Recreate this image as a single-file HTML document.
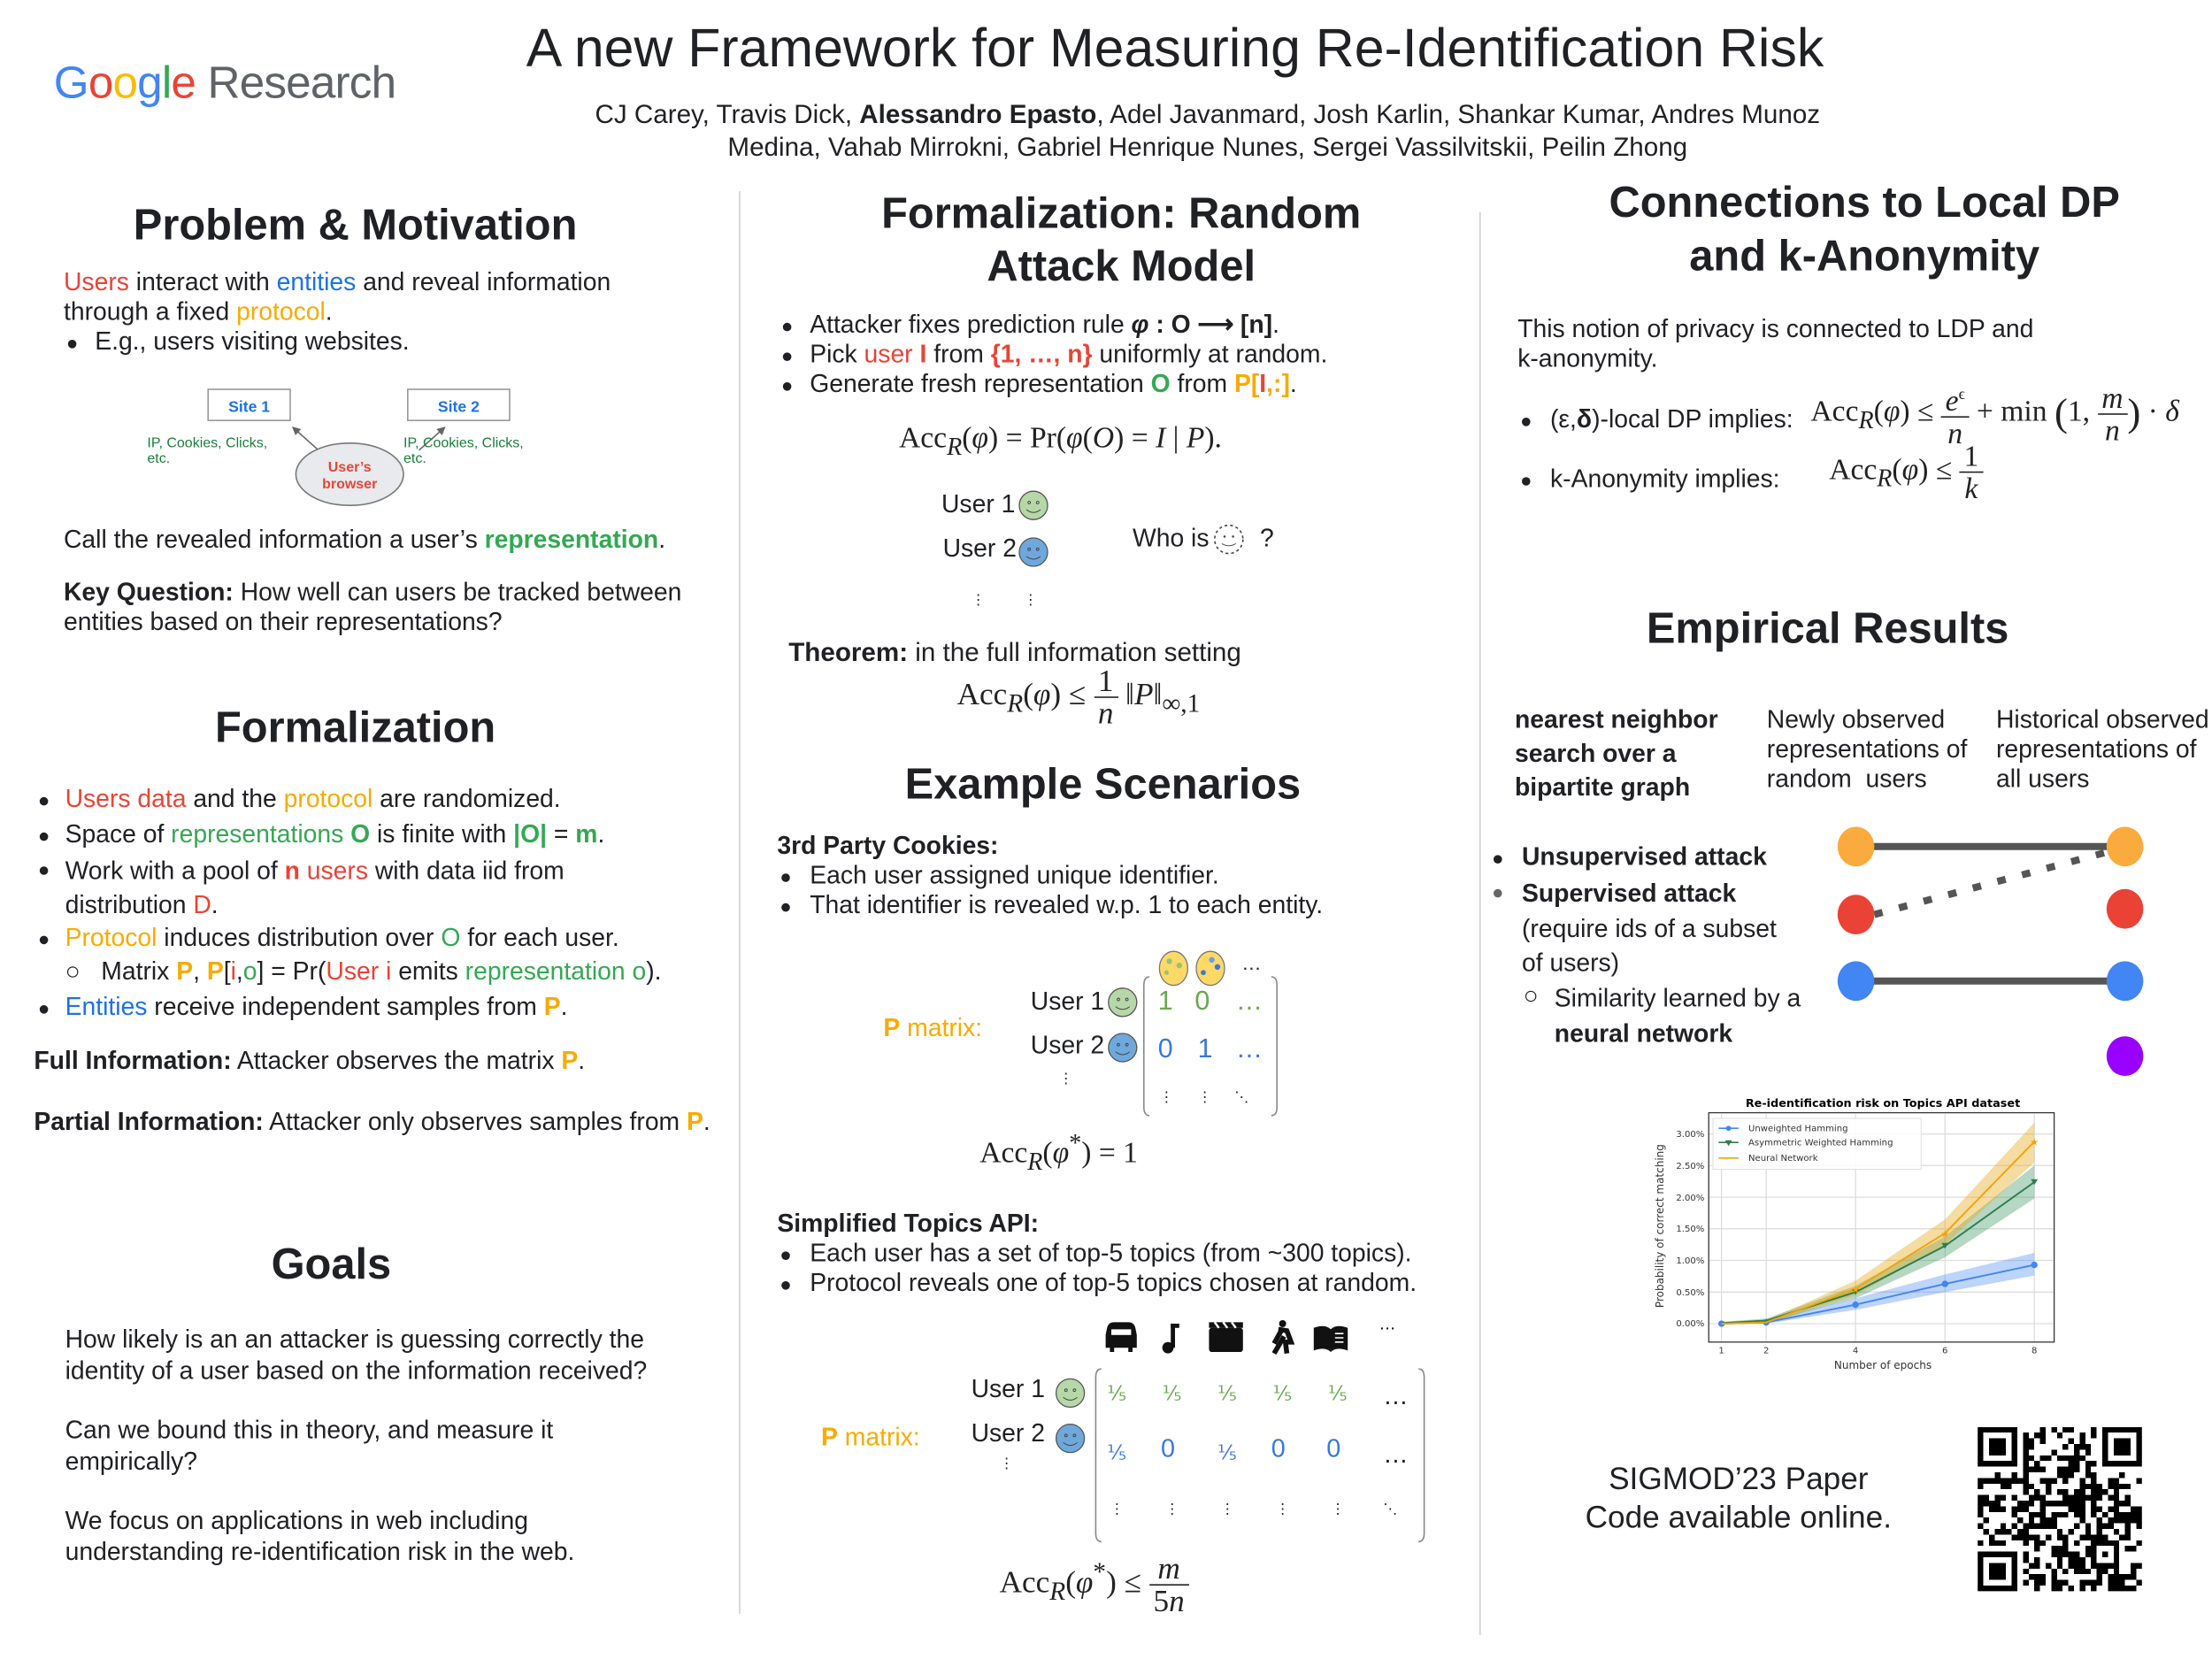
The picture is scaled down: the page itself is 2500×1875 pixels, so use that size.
<!DOCTYPE html>
<html><head><meta charset="utf-8">
<style>
html,body{margin:0;padding:0;background:#fff;}
body{width:2500px;height:1875px;overflow:hidden;position:relative;}
#pg{position:absolute;left:0;top:0;width:1562.5px;height:1172px;transform:scale(1.6);transform-origin:0 0;font-family:"Liberation Sans",sans-serif;color:#202124;}
.t{position:absolute;white-space:nowrap;font-size:17.7px;line-height:21px;}
.h{position:absolute;white-space:nowrap;font-weight:bold;font-size:30.5px;line-height:36px;text-align:center;transform:translateX(-50%);}
.c{transform:translateX(-50%);text-align:center;}
.r{color:#ea4335}.b{color:#1a73e8}.o{color:#f9ab00}.g{color:#34a853}
.m{font-family:"Liberation Serif",serif;font-size:21px;position:absolute;white-space:nowrap;color:#222;}
.m i{font-style:italic}
.fr{display:inline-block;vertical-align:middle;text-align:center;line-height:22px;}
.fr>span{display:block;padding:0 3px}
.fr>span:first-child{border-bottom:1px solid #222}
.dot{position:absolute;width:6px;height:6px;border-radius:50%;background:#202124}
.vl{position:absolute;width:1px;background:#d0d0d0}
</style></head><body><div id="pg">

<!-- header -->
<div class="t" style="left:38px;top:38px;font-size:32px;line-height:40px;letter-spacing:-0.5px"><span style="color:#4285f4">G</span><span style="color:#ea4335">o</span><span style="color:#fbbc05">o</span><span style="color:#4285f4">g</span><span style="color:#34a853">l</span><span style="color:#ea4335">e</span> <span style="color:#5f6368">Research</span></div>
<div class="t c" style="left:830px;top:13px;font-size:38px;line-height:44px">A new Framework for Measuring Re-Identification Risk</div>
<div class="t c" style="left:853px;top:69px;font-size:18.5px;line-height:23px">CJ Carey, Travis Dick, <b>Alessandro Epasto</b>, Adel Javanmard, Josh Karlin, Shankar Kumar, Andres Munoz<br>Medina, Vahab Mirrokni, Gabriel Henrique Nunes, Sergei Vassilvitskii, Peilin Zhong</div>

<div class="vl" style="left:522px;top:135px;height:1005px"></div>
<div class="vl" style="left:1045px;top:150px;height:1005px"></div>

<!-- LEFT -->
<div class="h" style="left:251px;top:141px">Problem &amp; Motivation</div>
<div class="t" style="left:45px;top:189px"><span class="r">Users</span> interact with <span class="b">entities</span> and reveal information<br>through a fixed <span class="o">protocol</span>.</div>
<div class="dot" style="left:48px;top:240px"></div>
<div class="t" style="left:67px;top:231px">E.g., users visiting websites.</div>
<svg style="position:absolute;left:100px;top:270px" width="290" height="90">
<defs><marker id="ar" markerWidth="6" markerHeight="6" refX="5" refY="3" orient="auto"><path d="M0,0 L6,3 L0,6z" fill="#666"/></marker></defs>
<rect x="47" y="5" width="58" height="22" fill="#fff" stroke="#999"/>
<rect x="188" y="5" width="72" height="22" fill="#fff" stroke="#999"/>
<text x="76" y="21" font-size="11" font-weight="bold" fill="#1a73e8" text-anchor="middle" font-family="Liberation Sans">Site 1</text>
<text x="224" y="21" font-size="11" font-weight="bold" fill="#1a73e8" text-anchor="middle" font-family="Liberation Sans">Site 2</text>
<line x1="125" y1="48" x2="107" y2="32" stroke="#666" marker-end="url(#ar)"/>
<line x1="196" y1="48" x2="214" y2="32" stroke="#666" marker-end="url(#ar)"/>
<ellipse cx="147" cy="65" rx="38" ry="22" fill="#e8eaed" stroke="#777"/>
<text x="147" y="63" font-size="10" font-weight="bold" fill="#ea4335" text-anchor="middle" font-family="Liberation Sans">User’s</text>
<text x="147" y="75" font-size="10" font-weight="bold" fill="#ea4335" text-anchor="middle" font-family="Liberation Sans">browser</text>
<text x="4" y="46" font-size="10" fill="#188038" font-family="Liberation Sans">IP, Cookies, Clicks,</text>
<text x="4" y="57" font-size="10" fill="#188038" font-family="Liberation Sans">etc.</text>
<text x="185" y="46" font-size="10" fill="#188038" font-family="Liberation Sans">IP, Cookies, Clicks,</text>
<text x="185" y="57" font-size="10" fill="#188038" font-family="Liberation Sans">etc.</text>
</svg>
<div class="t" style="left:45px;top:371px">Call the revealed information a user’s <span class="g" style="font-weight:bold;color:#34a853">representation</span>.</div>
<div class="t" style="left:45px;top:408px"><b>Key Question:</b> How well can users be tracked between<br>entities based on their representations?</div>

<div class="h" style="left:251px;top:496px">Formalization</div>
<div class="dot" style="left:28px;top:563px"></div><div class="t" style="left:46px;top:554px"><span class="r">Users data</span> and the <span class="o">protocol</span> are randomized.</div>
<div class="dot" style="left:28px;top:588px"></div><div class="t" style="left:46px;top:579px">Space of <span class="g">representations</span> <b class="g">O</b> is finite with <b class="g">|O|</b> = <b class="g">m</b>.</div>
<div class="dot" style="left:28px;top:612px"></div><div class="t" style="left:46px;top:603px;line-height:24px">Work with a pool of <span class="r"><b>n</b> users</span> with data iid from<br>distribution <span class="r">D</span>.</div>
<div class="dot" style="left:28px;top:661px"></div><div class="t" style="left:46px;top:652px"><span class="o">Protocol</span> induces distribution over <span class="g">O</span> for each user.</div>
<div class="t" style="left:46px;top:676px">○&nbsp;&nbsp; Matrix <b class="o">P</b>, <b class="o">P</b>[<span class="r">i</span>,<span class="g">o</span>] = Pr(<span class="r">User i</span> emits <span class="g">representation o</span>).</div>
<div class="dot" style="left:28px;top:710px"></div><div class="t" style="left:46px;top:701px"><span class="b">Entities</span> receive independent samples from <b class="o">P</b>.</div>
<div class="t" style="left:24px;top:739px"><b>Full Information:</b> Attacker observes the matrix <b class="o">P</b>.</div>
<div class="t" style="left:24px;top:782px"><b>Partial Information:</b> Attacker only observes samples from <b class="o">P</b>.</div>

<div class="h" style="left:234px;top:875px">Goals</div>
<div class="t" style="left:46px;top:935px;line-height:22px">How likely is an an attacker is guessing correctly the<br>identity of a user based on the information received?</div>
<div class="t" style="left:46px;top:999px;line-height:22px">Can we bound this in theory, and measure it<br>empirically?</div>
<div class="t" style="left:46px;top:1063px;line-height:22px">We focus on applications in web including<br>understanding re-identification risk in the web.</div>

<!-- MIDDLE -->
<div class="h" style="left:792px;top:133px;line-height:37px">Formalization: Random<br>Attack Model</div>
<div class="dot" style="left:553px;top:228px"></div><div class="t" style="left:572px;top:219px">Attacker fixes prediction rule <b><i>φ</i> : O ⟶ [n]</b>.</div>
<div class="dot" style="left:553px;top:249px"></div><div class="t" style="left:572px;top:240px">Pick <span class="r">user <b>I</b></span> from <b class="r">{1, …, n}</b> uniformly at random.</div>
<div class="dot" style="left:553px;top:270px"></div><div class="t" style="left:572px;top:261px">Generate fresh representation <b class="g">O</b> from <b class="o">P[</b><b class="r">I</b><b class="o">,:]</b>.</div>
<div class="m" style="left:635px;top:297px">Acc<sub><i>R</i></sub>(<i>φ</i>) = Pr(<i>φ</i>(<i>O</i>) = <i>I</i> | <i>P</i>).</div>
<div class="t" style="left:665px;top:346px">User 1</div>
<div class="t" style="left:666px;top:377px">User 2</div>
<div class="t" style="left:800px;top:370px">Who is</div>
<div class="t" style="left:890px;top:370px">?</div>
<div class="t" style="left:686px;top:414px;font-size:10px">⋮</div>
<div class="t" style="left:723px;top:414px;font-size:10px">⋮</div>
<div class="t" style="left:557px;top:450px;font-size:18.5px"><b>Theorem:</b> in the full information setting</div>
<div class="m" style="left:676px;top:470px;font-size:22px">Acc<sub><i>R</i></sub>(<i>φ</i>) ≤ <span class="fr"><span>1</span><span><i>n</i></span></span> ‖<i>P</i>‖<sub>∞,1</sub></div>

<div class="h" style="left:779px;top:536px">Example Scenarios</div>
<div class="t" style="left:549px;top:587px"><b>3rd Party Cookies:</b></div>
<div class="dot" style="left:552px;top:617px"></div><div class="t" style="left:572px;top:608px">Each user assigned unique identifier.</div>
<div class="dot" style="left:552px;top:638px"></div><div class="t" style="left:572px;top:629px">That identifier is revealed w.p. 1 to each entity.</div>
<div class="t" style="left:624px;top:716px;color:#f9ab00"><b>P</b> matrix:</div>
<div class="t" style="left:728px;top:697px">User 1</div>
<div class="t" style="left:728px;top:728px">User 2</div>
<div class="t" style="left:748px;top:752px;font-size:10px">⋮</div>
<svg style="position:absolute;left:806px;top:688px" width="100" height="104"><path d="M6,2 Q2,2 2,8 V94 Q2,100 6,100 M92,2 Q96,2 96,8 V94 Q96,100 92,100" fill="none" stroke="#888"/></svg>
<div class="t" style="left:818px;top:697px;font-size:19px;color:#6aa84f">1</div>
<div class="t" style="left:844px;top:697px;font-size:19px;color:#6aa84f">0</div>
<div class="t" style="left:873px;top:697px;font-size:19px;color:#6aa84f">…</div>
<div class="t" style="left:818px;top:731px;font-size:19px;color:#3c78d8">0</div>
<div class="t" style="left:846px;top:731px;font-size:19px;color:#3c78d8">1</div>
<div class="t" style="left:873px;top:731px;font-size:19px;color:#3c78d8">…</div>
<div class="t" style="left:819px;top:765px;font-size:10px">⋮</div><div class="t" style="left:846px;top:765px;font-size:10px">⋮</div><div class="t" style="left:872px;top:765px;font-size:10px">⋱</div>
<div class="t" style="left:877px;top:670px;font-size:14px">…</div>
<div class="m" style="left:692px;top:797px">Acc<sub><i>R</i></sub>(<i>φ</i><sup>*</sup>) = 1</div>

<div class="t" style="left:549px;top:854px"><b>Simplified Topics API:</b></div>
<div class="dot" style="left:552px;top:884px"></div><div class="t" style="left:572px;top:875px">Each user has a set of top-5 topics (from ~300 topics).</div>
<div class="dot" style="left:552px;top:905px"></div><div class="t" style="left:572px;top:896px">Protocol reveals one of top-5 topics chosen at random.</div>
<svg style="position:absolute;left:778px;top:930px" width="230" height="32">
<path d="M4,8 Q5,4 9,4 H19 Q23,4 24,8 L25,13 V22 H22 V25 H19 V22 H9 V25 H6 V22 H3 V13z" fill="#111"/><rect x="7" y="9" width="14" height="4" fill="#fff"/>
<circle cx="47" cy="22" r="4" fill="#111"/><rect x="49" y="5" width="3" height="17" fill="#111"/><rect x="49" y="5" width="6" height="3" fill="#111"/>
<rect x="76" y="8" width="24" height="17" rx="2" fill="#111"/><path d="M76,4 L100,4 L100,8 L76,8z" fill="#111"/><path d="M80,4 l3,4 M86,4 l3,4 M92,4 l3,4" stroke="#fff" stroke-width="1.5"/>
<circle cx="128" cy="5" r="2.5" fill="#111"/><path d="M125,9 L131,10 L134,18 L130,18 L131,26 M127,10 L122,19 M129,14 L122,26" stroke="#111" stroke-width="3.5" fill="none"/>
<path d="M150,8 Q158,5 162,9 Q166,5 174,8 V24 Q166,21 162,25 Q158,21 150,24z" fill="#111"/><path d="M165,12 h6 M165,15 h6 M165,18 h6" stroke="#fff"/>
<text x="196" y="9" font-size="12" font-family="Liberation Sans">…</text>
</svg>
<div class="t" style="left:580px;top:1005px;color:#f9ab00"><b>P</b> matrix:</div>
<div class="t" style="left:686px;top:971px">User 1</div>
<div class="t" style="left:686px;top:1002px">User 2</div>
<div class="t" style="left:706px;top:1024px;font-size:10px">⋮</div>
<svg style="position:absolute;left:772px;top:965px" width="240" height="128"><path d="M6,2 Q2,2 2,8 V118 Q2,124 6,124 M230,2 Q234,2 234,8 V118 Q234,124 230,124" fill="none" stroke="#888"/></svg>
<div class="t" style="left:782px;top:974px;font-size:14px;color:#6aa84f">⅕</div><div class="t" style="left:821px;top:974px;font-size:14px;color:#6aa84f">⅕</div><div class="t" style="left:860px;top:974px;font-size:14px;color:#6aa84f">⅕</div><div class="t" style="left:899px;top:974px;font-size:14px;color:#6aa84f">⅕</div><div class="t" style="left:938px;top:974px;font-size:14px;color:#6aa84f">⅕</div>
<div class="t" style="left:977px;top:976px">…</div>
<div class="t" style="left:782px;top:1016px;font-size:14px;color:#3c78d8">⅕</div><div class="t" style="left:820px;top:1013px;font-size:18px;color:#3c78d8">0</div><div class="t" style="left:860px;top:1016px;font-size:14px;color:#3c78d8">⅕</div><div class="t" style="left:898px;top:1013px;font-size:18px;color:#3c78d8">0</div><div class="t" style="left:937px;top:1013px;font-size:18px;color:#3c78d8">0</div>
<div class="t" style="left:977px;top:1017px">…</div>
<div class="t" style="left:784px;top:1056px;font-size:10px">⋮</div><div class="t" style="left:823px;top:1056px;font-size:10px">⋮</div><div class="t" style="left:862px;top:1056px;font-size:10px">⋮</div><div class="t" style="left:901px;top:1056px;font-size:10px">⋮</div><div class="t" style="left:940px;top:1056px;font-size:10px">⋮</div><div class="t" style="left:977px;top:1056px;font-size:10px">⋱</div>
<div class="m" style="left:706px;top:1097px;font-size:22px">Acc<sub><i>R</i></sub>(<i>φ</i><sup>*</sup>) ≤ <span class="fr"><span><i>m</i></span><span>5<i>n</i></span></span></div>

<!-- smileys -->
<svg style="position:absolute;left:0;top:0;overflow:visible" width="1" height="1">
<defs><g id="sm"><circle r="10" stroke="#555" stroke-width="0.8"/><circle cx="-3" cy="-2" r="0.9" fill="none" stroke="#444" stroke-width="0.6"/><circle cx="3" cy="-2" r="0.9" fill="none" stroke="#444" stroke-width="0.6"/><path d="M-5,3 Q0,7 5,3" fill="none" stroke="#444" stroke-width="0.6"/></g></defs>
<use href="#sm" x="730" y="357" fill="#b6d7a8"/><use href="#sm" x="730" y="390" fill="#6fa8dc"/>
<circle cx="868" cy="381" r="10" fill="none" stroke="#444" stroke-dasharray="2,2"/><circle cx="865" cy="379" r="0.8" fill="#444"/><circle cx="871" cy="379" r="0.8" fill="#444"/><path d="M863,384 Q868,387 873,384" fill="none" stroke="#444" stroke-width="0.6"/>
<use href="#sm" x="793" y="708" fill="#b6d7a8"/><use href="#sm" x="793" y="740" fill="#6fa8dc"/>
<use href="#sm" x="756" y="984" fill="#b6d7a8"/><use href="#sm" x="756" y="1016" fill="#6fa8dc"/>
<ellipse cx="829" cy="684" rx="10" ry="12" fill="#ffd966" stroke="#777" stroke-width="0.8"/><circle cx="826" cy="679" r="2" fill="#93c47d"/><circle cx="833" cy="682" r="2" fill="#93c47d"/><circle cx="824" cy="687" r="1.6" fill="#93c47d"/>
<ellipse cx="855" cy="684" rx="10" ry="12" fill="#ffd966" stroke="#777" stroke-width="0.8"/><circle cx="856" cy="678" r="2" fill="#6d9eeb"/><circle cx="860" cy="683" r="2" fill="#3c78d8"/><circle cx="850" cy="687" r="1.8" fill="#3c78d8"/>
</svg>

<!-- RIGHT -->
<div class="h" style="left:1317px;top:124px;line-height:38px">Connections to Local DP<br>and k-Anonymity</div>
<div class="t" style="left:1072px;top:222px">This notion of privacy is connected to LDP and<br>k-anonymity.</div>
<div class="dot" style="left:1075px;top:295px"></div><div class="t" style="left:1095px;top:286px">(ε,<b>δ</b>)-local DP implies:</div>
<div class="m" style="left:1279px;top:268px">Acc<sub><i>R</i></sub>(<i>φ</i>) ≤ <span class="fr"><span><i>e</i><sup style="font-size:11px">ϵ</sup></span><span><i>n</i></span></span> + min <span style="font-size:28px;vertical-align:middle">(</span>1, <span class="fr"><span><i>m</i></span><span><i>n</i></span></span><span style="font-size:28px;vertical-align:middle">)</span> · <i>δ</i></div>
<div class="dot" style="left:1075px;top:337px"></div><div class="t" style="left:1095px;top:328px">k-Anonymity implies:</div>
<div class="m" style="left:1292px;top:311px">Acc<sub><i>R</i></sub>(<i>φ</i>) ≤ <span class="fr"><span>1</span><span><i>k</i></span></span></div>

<div class="h" style="left:1291px;top:426px">Empirical Results</div>
<div class="t" style="left:1070px;top:496px;line-height:24px"><b>nearest neighbor<br>search over a<br>bipartite graph</b></div>
<div class="t" style="left:1248px;top:498px">Newly observed<br>representations of<br>random&nbsp; users</div>
<div class="t" style="left:1410px;top:498px">Historical observed<br>representations of<br>all users</div>
<div class="dot" style="left:1055px;top:604px"></div><div class="t" style="left:1075px;top:595px;font-size:17.7px"><b>Unsupervised attack</b></div>
<div class="dot" style="left:1055px;top:628px;background:#666"></div><div class="t" style="left:1075px;top:619px;font-size:17.7px;line-height:24.5px"><b>Supervised attack</b><br>(require ids of a subset<br>of users)</div>
<div class="t" style="left:1076px;top:693px;font-size:17.7px">○</div><div class="t" style="left:1098px;top:693px;font-size:17.7px;line-height:24.5px">Similarity learned by a<br><b>neural network</b></div>
<svg style="position:absolute;left:1290px;top:580px" width="240" height="185">
<line x1="21" y1="18" x2="211" y2="18" stroke="#555" stroke-width="5"/>
<line x1="21" y1="113" x2="211" y2="113" stroke="#555" stroke-width="5"/>
<line x1="34" y1="66" x2="198" y2="22" stroke="#555" stroke-width="5" stroke-dasharray="6,12"/>
<ellipse cx="21" cy="18" rx="13" ry="14" fill="#fbab3d"/><ellipse cx="211" cy="18" rx="13" ry="14" fill="#fbab3d"/>
<ellipse cx="21" cy="66" rx="13" ry="14" fill="#ea4335"/><ellipse cx="211" cy="62" rx="13" ry="14" fill="#ea4335"/>
<ellipse cx="21" cy="113" rx="13" ry="14" fill="#4285f4"/><ellipse cx="211" cy="113" rx="13" ry="14" fill="#4285f4"/>
<ellipse cx="211" cy="166" rx="13" ry="14" fill="#9900ff"/>
</svg>

<!-- chart -->
<svg style="position:absolute;left:0;top:0;overflow:visible" width="1" height="1" font-family="DejaVu Sans, sans-serif">
<text x="1330" y="782" font-size="8" font-weight="bold" text-anchor="middle">Re-identification risk on Topics API dataset</text>
<g stroke="#ddd" stroke-width="0.8">
<line x1="1216" y1="787" x2="1216" y2="948"/><line x1="1247.6" y1="787" x2="1247.6" y2="948"/><line x1="1310.7" y1="787" x2="1310.7" y2="948"/><line x1="1373.9" y1="787" x2="1373.9" y2="948"/><line x1="1437" y1="787" x2="1437" y2="948"/>
<line x1="1207" y1="935" x2="1451" y2="935"/><line x1="1207" y1="912.7" x2="1451" y2="912.7"/><line x1="1207" y1="890.3" x2="1451" y2="890.3"/><line x1="1207" y1="868" x2="1451" y2="868"/><line x1="1207" y1="845.7" x2="1451" y2="845.7"/><line x1="1207" y1="823.3" x2="1451" y2="823.3"/><line x1="1207" y1="801" x2="1451" y2="801"/>
</g>
<polygon points="1216,934.1 1247.6,932.8 1310.7,917.1 1373.9,900.2 1437,885 1437,901 1373.9,912.7 1310.7,925.2 1247.6,935 1216,935" fill="#4285f4" fill-opacity="0.35"/>
<polygon points="1216,933.7 1247.6,931.4 1310.7,908.2 1373.9,873.4 1437,823.3 1437,846.6 1373.9,888.1 1310.7,917.1 1247.6,934.1 1216,935" fill="#2e8b57" fill-opacity="0.35"/>
<polygon points="1216,934.1 1247.6,932.8 1310.7,904.6 1373.9,861.3 1437,793 1437,821.1 1373.9,879.2 1310.7,914.9 1247.6,935 1216,935" fill="#e6a817" fill-opacity="0.4"/>
<polyline points="1216,935 1247.6,934.1 1310.7,921.6 1373.9,906.9 1437,893.5" fill="none" stroke="#4285f4" stroke-width="1.2"/>
<g fill="#4285f4"><circle cx="1216" cy="935" r="2.3"/><circle cx="1247.6" cy="934.1" r="2.3"/><circle cx="1310.7" cy="921.6" r="2.3"/><circle cx="1373.9" cy="906.9" r="2.3"/><circle cx="1437" cy="893.5" r="2.3"/></g>
<polyline points="1216,934.6 1247.6,932.8 1310.7,912.7 1373.9,880.1 1437,835" fill="none" stroke="#2e7d4f" stroke-width="1.2"/>
<polyline points="1216,935 1247.6,934.1 1310.7,910.4 1373.9,871.1 1437,806.4" fill="none" stroke="#f4a300" stroke-width="1.2"/>
<g fill="#2e7d4f"><path d="M1434.5,833 h5 l-2.5,4z"/><path d="M1371.4,878 h5 l-2.5,4z"/><path d="M1308.2,910.7 h5 l-2.5,4z"/></g>
<g fill="#f4a300" font-size="7" text-anchor="middle"><text x="1437" y="809">★</text><text x="1373.9" y="874">★</text><text x="1310.7" y="913">★</text></g>
<rect x="1207" y="786" width="244" height="162" fill="none" stroke="#333" stroke-width="0.8"/>
<rect x="1210" y="790" width="147" height="36" fill="#fff" fill-opacity="0.85" stroke="#ddd" stroke-width="0.6"/>
<g font-size="6.3" fill="#333">
<line x1="1214" y1="797" x2="1228" y2="797" stroke="#4285f4"/><circle cx="1221" cy="797" r="1.8" fill="#4285f4"/><text x="1235" y="799">Unweighted Hamming</text>
<line x1="1214" y1="807" x2="1228" y2="807" stroke="#2e7d4f"/><path d="M1218.5,805.5 h5 l-2.5,4z" fill="#2e7d4f"/><text x="1235" y="809">Asymmetric Weighted Hamming</text>
<line x1="1214" y1="818" x2="1228" y2="818" stroke="#f4a300"/><text x="1235" y="820">Neural Network</text>
</g>
<g font-size="6.3" fill="#333" text-anchor="end">
<text x="1204" y="937">0.00%</text><text x="1204" y="915">0.50%</text><text x="1204" y="892.5">1.00%</text><text x="1204" y="870">1.50%</text><text x="1204" y="848">2.00%</text><text x="1204" y="825.5">2.50%</text><text x="1204" y="803">3.00%</text>
</g>
<g font-size="6.3" fill="#333" text-anchor="middle">
<text x="1216" y="956">1</text><text x="1247.6" y="956">2</text><text x="1310.7" y="956">4</text><text x="1373.9" y="956">6</text><text x="1437" y="956">8</text>
<text x="1330" y="967" font-size="7.5">Number of epochs</text>
<text transform="translate(1175,866) rotate(-90)" font-size="7.5">Probability of correct matching</text>
</g>
</svg>

<div class="t c" style="left:1228px;top:1031px;font-size:22px;line-height:27px">SIGMOD’23 Paper<br>Code available online.</div>
<svg id="qr" style="position:absolute;left:1397px;top:1008px" width="116" height="116" viewBox="0 0 29 29" shape-rendering="crispEdges"></svg>
<script>
(function(){var n=29,g=[],s=12345;function r(){s=(s*1103515245+12345)&0x7fffffff;return s/0x7fffffff;}
for(var y=0;y<n;y++){g[y]=[];for(var x=0;x<n;x++)g[y][x]=r()<0.5?1:0;}
function f(ox,oy){for(var y=-1;y<8;y++)for(var x=-1;x<8;x++){var X=ox+x,Y=oy+y;if(X<0||Y<0||X>=n||Y>=n)continue;var v=0;if(x>=0&&x<7&&y>=0&&y<7){v=(x==0||x==6||y==0||y==6||(x>=2&&x<=4&&y>=2&&y<=4))?1:0;}g[Y][X]=v;}}
f(0,0);f(22,0);f(0,22);
for(var y=20;y<25;y++)for(var x=20;x<25;x++){var dx=Math.abs(x-22),dy=Math.abs(y-22);g[y][x]=(Math.max(dx,dy)!=1)?1:0;}
var h='';for(var y=0;y<n;y++)for(var x=0;x<n;x++)if(g[y][x])h+='<rect x="'+x+'" y="'+y+'" width="1" height="1"/>';
document.getElementById('qr').innerHTML=h;})();
</script>
</div></body></html>
